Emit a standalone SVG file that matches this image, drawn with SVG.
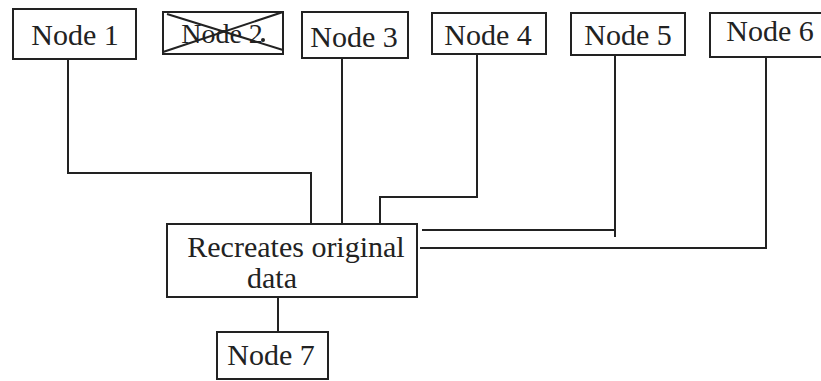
<svg xmlns="http://www.w3.org/2000/svg" width="821" height="381" viewBox="0 0 821 381">
<style>
.box{fill:#fff;stroke:#222;stroke-width:2}
.t{font-family:"Liberation Serif","Times New Roman",serif;font-size:30px;fill:#222;text-anchor:middle}
.c{fill:none;stroke:#222;stroke-width:2}
</style>
<rect width="821" height="381" fill="#fff"/>
<g id="connectors">
<polyline class="c" points="68,59 68,173 311,173 311,224"/>
<line class="c" x1="342" y1="58" x2="342" y2="224"/>
<polyline class="c" points="477,54 477,197 380,197 380,224"/>
<polyline class="c" points="422,230 615,230"/>
<line class="c" x1="615" y1="55" x2="615" y2="237"/>
<polyline class="c" points="420,248 766,248"/>
<line class="c" x1="766" y1="57" x2="766" y2="249"/>
<line class="c" x1="278" y1="297" x2="278" y2="332"/>
</g>
<g id="node1"><rect class="box" x="13" y="9" width="123" height="50"/><text class="t" x="75" y="45">Node 1</text></g>
<g id="node2"><rect class="box" x="163" y="12" width="120" height="42"/><text class="t" x="222" y="43" style="font-size:28px">Node 2</text>
<line class="c" x1="163" y1="52" x2="283" y2="12" stroke-width="1.5"/><line class="c" x1="167" y1="14" x2="283" y2="50" stroke-width="1.5"/><circle cx="263" cy="40" r="2" fill="#222"/></g>
<g id="node3"><rect class="box" x="302" y="12" width="106" height="46"/><text class="t" x="354" y="47">Node 3</text></g>
<g id="node4"><rect class="box" x="432" y="13" width="114" height="41"/><text class="t" x="488" y="45">Node 4</text></g>
<g id="node5"><rect class="box" x="571" y="13" width="114" height="42"/><text class="t" x="628" y="45">Node 5</text></g>
<g id="node6"><rect class="box" x="710" y="13" width="112" height="44"/><text class="t" x="770" y="41">Node 6</text></g>
<g id="recreate"><rect class="box" x="167" y="224" width="250" height="73"/><text class="t" x="296" y="257">Recreates original</text><text class="t" x="272" y="288">data</text></g>
<g id="node7"><rect class="box" x="217" y="332" width="111" height="47"/><text class="t" x="271" y="365">Node 7</text></g>
</svg>
